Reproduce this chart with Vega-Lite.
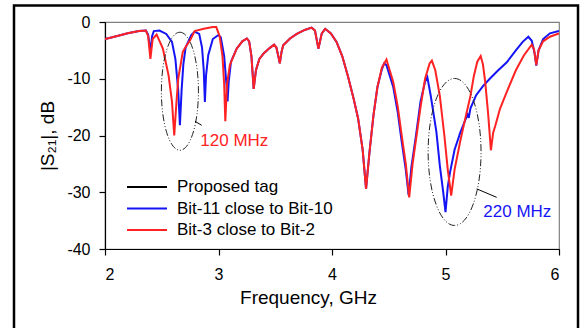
{
  "$schema": "https://vega.github.io/schema/vega-lite/v6.json",
  "width": 454,
  "height": 227,
  "autosize": "none",
  "padding": {"left": 105, "top": 22, "right": 23, "bottom": 79},
  "background": "white",
  "config": {
    "font": "Liberation Sans",
    "view": {"stroke": "#808080", "strokeWidth": 1.2},
    "axis": {
      "grid": false, "domainColor": "black", "domainWidth": 1.2, "tickColor": "black", "tickWidth": 1.2,
      "tickSize": 6, "labelFontSize": 16, "labelColor": "black", "titleFontSize": 19, "titleFontWeight": "normal", "titleColor": "black"
    },
    "legend": {
      "orient": "none", "legendX": 31, "legendY": 154, "labelFontSize": 17, "labelColor": "black",
      "symbolType": "M-2,0L2,0", "symbolSize": 400, "symbolStrokeWidth": 1.8, "labelOffset": 19, "rowPadding": 2.5, "padding": 0, "title": null
    }
  },
  "datasets": {
    "curves": [
      {"s": "Bit-11 close to Bit-10", "f": 2.00, "db": -3.0},
      {"s": "Bit-11 close to Bit-10", "f": 2.10, "db": -2.5},
      {"s": "Bit-11 close to Bit-10", "f": 2.20, "db": -2.0},
      {"s": "Bit-11 close to Bit-10", "f": 2.30, "db": -1.6},
      {"s": "Bit-11 close to Bit-10", "f": 2.36, "db": -1.5},
      {"s": "Bit-11 close to Bit-10", "f": 2.38, "db": -2.2},
      {"s": "Bit-11 close to Bit-10", "f": 2.40, "db": -5.3},
      {"s": "Bit-11 close to Bit-10", "f": 2.415, "db": -2.5},
      {"s": "Bit-11 close to Bit-10", "f": 2.43, "db": -1.6},
      {"s": "Bit-11 close to Bit-10", "f": 2.48, "db": -1.5},
      {"s": "Bit-11 close to Bit-10", "f": 2.54, "db": -2.1},
      {"s": "Bit-11 close to Bit-10", "f": 2.59, "db": -3.5},
      {"s": "Bit-11 close to Bit-10", "f": 2.62, "db": -6.5},
      {"s": "Bit-11 close to Bit-10", "f": 2.645, "db": -12.0},
      {"s": "Bit-11 close to Bit-10", "f": 2.66, "db": -18.2},
      {"s": "Bit-11 close to Bit-10", "f": 2.675, "db": -12.0},
      {"s": "Bit-11 close to Bit-10", "f": 2.69, "db": -7.5},
      {"s": "Bit-11 close to Bit-10", "f": 2.71, "db": -4.5},
      {"s": "Bit-11 close to Bit-10", "f": 2.76, "db": -2.3},
      {"s": "Bit-11 close to Bit-10", "f": 2.79, "db": -1.7},
      {"s": "Bit-11 close to Bit-10", "f": 2.83, "db": -2.1},
      {"s": "Bit-11 close to Bit-10", "f": 2.855, "db": -4.5},
      {"s": "Bit-11 close to Bit-10", "f": 2.87, "db": -8.5},
      {"s": "Bit-11 close to Bit-10", "f": 2.88, "db": -14.1},
      {"s": "Bit-11 close to Bit-10", "f": 2.89, "db": -9.5},
      {"s": "Bit-11 close to Bit-10", "f": 2.91, "db": -5.8},
      {"s": "Bit-11 close to Bit-10", "f": 2.95, "db": -3.0},
      {"s": "Bit-11 close to Bit-10", "f": 3.00, "db": -2.3},
      {"s": "Bit-11 close to Bit-10", "f": 3.02, "db": -2.7},
      {"s": "Bit-11 close to Bit-10", "f": 3.05, "db": -6.0},
      {"s": "Bit-11 close to Bit-10", "f": 3.07, "db": -11.0},
      {"s": "Bit-11 close to Bit-10", "f": 3.08, "db": -14.0},
      {"s": "Bit-11 close to Bit-10", "f": 3.09, "db": -10.5},
      {"s": "Bit-11 close to Bit-10", "f": 3.11, "db": -7.0},
      {"s": "Bit-11 close to Bit-10", "f": 3.16, "db": -4.7},
      {"s": "Bit-11 close to Bit-10", "f": 3.21, "db": -3.4},
      {"s": "Bit-11 close to Bit-10", "f": 3.25, "db": -2.9},
      {"s": "Bit-11 close to Bit-10", "f": 3.27, "db": -3.4},
      {"s": "Bit-11 close to Bit-10", "f": 3.29, "db": -6.0},
      {"s": "Bit-11 close to Bit-10", "f": 3.31, "db": -11.8},
      {"s": "Bit-11 close to Bit-10", "f": 3.33, "db": -8.5},
      {"s": "Bit-11 close to Bit-10", "f": 3.36, "db": -6.5},
      {"s": "Bit-11 close to Bit-10", "f": 3.40, "db": -5.5},
      {"s": "Bit-11 close to Bit-10", "f": 3.45, "db": -4.6},
      {"s": "Bit-11 close to Bit-10", "f": 3.49, "db": -4.0},
      {"s": "Bit-11 close to Bit-10", "f": 3.51, "db": -4.5},
      {"s": "Bit-11 close to Bit-10", "f": 3.53, "db": -6.3},
      {"s": "Bit-11 close to Bit-10", "f": 3.54, "db": -7.3},
      {"s": "Bit-11 close to Bit-10", "f": 3.555, "db": -5.3},
      {"s": "Bit-11 close to Bit-10", "f": 3.57, "db": -4.1},
      {"s": "Bit-11 close to Bit-10", "f": 3.63, "db": -2.9},
      {"s": "Bit-11 close to Bit-10", "f": 3.69, "db": -2.1},
      {"s": "Bit-11 close to Bit-10", "f": 3.76, "db": -1.4},
      {"s": "Bit-11 close to Bit-10", "f": 3.82, "db": -1.0},
      {"s": "Bit-11 close to Bit-10", "f": 3.85, "db": -1.5},
      {"s": "Bit-11 close to Bit-10", "f": 3.88, "db": -4.7},
      {"s": "Bit-11 close to Bit-10", "f": 3.91, "db": -2.0},
      {"s": "Bit-11 close to Bit-10", "f": 3.94, "db": -1.2},
      {"s": "Bit-11 close to Bit-10", "f": 3.99, "db": -2.0},
      {"s": "Bit-11 close to Bit-10", "f": 4.04, "db": -3.5},
      {"s": "Bit-11 close to Bit-10", "f": 4.09, "db": -6.0},
      {"s": "Bit-11 close to Bit-10", "f": 4.14, "db": -9.5},
      {"s": "Bit-11 close to Bit-10", "f": 4.19, "db": -13.5},
      {"s": "Bit-11 close to Bit-10", "f": 4.23, "db": -17.0},
      {"s": "Bit-11 close to Bit-10", "f": 4.27, "db": -22.5},
      {"s": "Bit-11 close to Bit-10", "f": 4.30, "db": -29.4},
      {"s": "Bit-11 close to Bit-10", "f": 4.33, "db": -23.0},
      {"s": "Bit-11 close to Bit-10", "f": 4.365, "db": -16.5},
      {"s": "Bit-11 close to Bit-10", "f": 4.40, "db": -11.5},
      {"s": "Bit-11 close to Bit-10", "f": 4.44, "db": -8.3},
      {"s": "Bit-11 close to Bit-10", "f": 4.46, "db": -7.3},
      {"s": "Bit-11 close to Bit-10", "f": 4.48, "db": -7.6},
      {"s": "Bit-11 close to Bit-10", "f": 4.54, "db": -11.5},
      {"s": "Bit-11 close to Bit-10", "f": 4.58, "db": -16.0},
      {"s": "Bit-11 close to Bit-10", "f": 4.61, "db": -20.5},
      {"s": "Bit-11 close to Bit-10", "f": 4.65, "db": -26.0},
      {"s": "Bit-11 close to Bit-10", "f": 4.675, "db": -30.5},
      {"s": "Bit-11 close to Bit-10", "f": 4.70, "db": -25.5},
      {"s": "Bit-11 close to Bit-10", "f": 4.74, "db": -20.0},
      {"s": "Bit-11 close to Bit-10", "f": 4.78, "db": -14.0},
      {"s": "Bit-11 close to Bit-10", "f": 4.82, "db": -10.5},
      {"s": "Bit-11 close to Bit-10", "f": 4.84, "db": -9.7},
      {"s": "Bit-11 close to Bit-10", "f": 4.87, "db": -13.0},
      {"s": "Bit-11 close to Bit-10", "f": 4.92, "db": -19.4},
      {"s": "Bit-11 close to Bit-10", "f": 4.95, "db": -25.3},
      {"s": "Bit-11 close to Bit-10", "f": 4.98, "db": -30.0},
      {"s": "Bit-11 close to Bit-10", "f": 5.00, "db": -33.5},
      {"s": "Bit-11 close to Bit-10", "f": 5.02, "db": -29.0},
      {"s": "Bit-11 close to Bit-10", "f": 5.04, "db": -26.5},
      {"s": "Bit-11 close to Bit-10", "f": 5.08, "db": -22.5},
      {"s": "Bit-11 close to Bit-10", "f": 5.13, "db": -19.5},
      {"s": "Bit-11 close to Bit-10", "f": 5.18, "db": -17.0},
      {"s": "Bit-11 close to Bit-10", "f": 5.195, "db": -16.3},
      {"s": "Bit-11 close to Bit-10", "f": 5.205, "db": -16.9},
      {"s": "Bit-11 close to Bit-10", "f": 5.22, "db": -15.2},
      {"s": "Bit-11 close to Bit-10", "f": 5.27, "db": -12.9},
      {"s": "Bit-11 close to Bit-10", "f": 5.33, "db": -11.3},
      {"s": "Bit-11 close to Bit-10", "f": 5.39, "db": -10.0},
      {"s": "Bit-11 close to Bit-10", "f": 5.46, "db": -8.6},
      {"s": "Bit-11 close to Bit-10", "f": 5.54, "db": -7.1},
      {"s": "Bit-11 close to Bit-10", "f": 5.62, "db": -5.0},
      {"s": "Bit-11 close to Bit-10", "f": 5.68, "db": -3.5},
      {"s": "Bit-11 close to Bit-10", "f": 5.73, "db": -2.6},
      {"s": "Bit-11 close to Bit-10", "f": 5.76, "db": -3.3},
      {"s": "Bit-11 close to Bit-10", "f": 5.785, "db": -5.5},
      {"s": "Bit-11 close to Bit-10", "f": 5.80, "db": -7.7},
      {"s": "Bit-11 close to Bit-10", "f": 5.82, "db": -5.0},
      {"s": "Bit-11 close to Bit-10", "f": 5.86, "db": -3.0},
      {"s": "Bit-11 close to Bit-10", "f": 5.92, "db": -2.0},
      {"s": "Bit-11 close to Bit-10", "f": 6.00, "db": -1.6},

      {"s": "Bit-3 close to Bit-2", "f": 2.00, "db": -3.0},
      {"s": "Bit-3 close to Bit-2", "f": 2.10, "db": -2.5},
      {"s": "Bit-3 close to Bit-2", "f": 2.20, "db": -2.0},
      {"s": "Bit-3 close to Bit-2", "f": 2.30, "db": -1.6},
      {"s": "Bit-3 close to Bit-2", "f": 2.36, "db": -1.5},
      {"s": "Bit-3 close to Bit-2", "f": 2.38, "db": -2.5},
      {"s": "Bit-3 close to Bit-2", "f": 2.40, "db": -6.5},
      {"s": "Bit-3 close to Bit-2", "f": 2.42, "db": -3.0},
      {"s": "Bit-3 close to Bit-2", "f": 2.455, "db": -2.2},
      {"s": "Bit-3 close to Bit-2", "f": 2.51, "db": -4.7},
      {"s": "Bit-3 close to Bit-2", "f": 2.56, "db": -9.4},
      {"s": "Bit-3 close to Bit-2", "f": 2.59, "db": -14.0},
      {"s": "Bit-3 close to Bit-2", "f": 2.61, "db": -20.0},
      {"s": "Bit-3 close to Bit-2", "f": 2.63, "db": -14.0},
      {"s": "Bit-3 close to Bit-2", "f": 2.645, "db": -10.0},
      {"s": "Bit-3 close to Bit-2", "f": 2.685, "db": -5.3},
      {"s": "Bit-3 close to Bit-2", "f": 2.71, "db": -4.4},
      {"s": "Bit-3 close to Bit-2", "f": 2.75, "db": -3.2},
      {"s": "Bit-3 close to Bit-2", "f": 2.79, "db": -1.6},
      {"s": "Bit-3 close to Bit-2", "f": 2.87, "db": -1.2},
      {"s": "Bit-3 close to Bit-2", "f": 2.95, "db": -0.9},
      {"s": "Bit-3 close to Bit-2", "f": 2.98, "db": -0.9},
      {"s": "Bit-3 close to Bit-2", "f": 3.01, "db": -2.5},
      {"s": "Bit-3 close to Bit-2", "f": 3.035, "db": -6.0},
      {"s": "Bit-3 close to Bit-2", "f": 3.05, "db": -11.0},
      {"s": "Bit-3 close to Bit-2", "f": 3.06, "db": -17.5},
      {"s": "Bit-3 close to Bit-2", "f": 3.075, "db": -11.0},
      {"s": "Bit-3 close to Bit-2", "f": 3.10, "db": -7.6},
      {"s": "Bit-3 close to Bit-2", "f": 3.16, "db": -4.7},
      {"s": "Bit-3 close to Bit-2", "f": 3.21, "db": -3.4},
      {"s": "Bit-3 close to Bit-2", "f": 3.25, "db": -2.9},
      {"s": "Bit-3 close to Bit-2", "f": 3.27, "db": -3.4},
      {"s": "Bit-3 close to Bit-2", "f": 3.29, "db": -6.0},
      {"s": "Bit-3 close to Bit-2", "f": 3.31, "db": -11.8},
      {"s": "Bit-3 close to Bit-2", "f": 3.33, "db": -8.5},
      {"s": "Bit-3 close to Bit-2", "f": 3.36, "db": -6.5},
      {"s": "Bit-3 close to Bit-2", "f": 3.40, "db": -5.5},
      {"s": "Bit-3 close to Bit-2", "f": 3.45, "db": -4.6},
      {"s": "Bit-3 close to Bit-2", "f": 3.49, "db": -4.0},
      {"s": "Bit-3 close to Bit-2", "f": 3.51, "db": -4.5},
      {"s": "Bit-3 close to Bit-2", "f": 3.53, "db": -6.3},
      {"s": "Bit-3 close to Bit-2", "f": 3.54, "db": -7.3},
      {"s": "Bit-3 close to Bit-2", "f": 3.555, "db": -5.3},
      {"s": "Bit-3 close to Bit-2", "f": 3.57, "db": -4.1},
      {"s": "Bit-3 close to Bit-2", "f": 3.63, "db": -2.9},
      {"s": "Bit-3 close to Bit-2", "f": 3.69, "db": -2.1},
      {"s": "Bit-3 close to Bit-2", "f": 3.76, "db": -1.4},
      {"s": "Bit-3 close to Bit-2", "f": 3.82, "db": -1.0},
      {"s": "Bit-3 close to Bit-2", "f": 3.85, "db": -1.5},
      {"s": "Bit-3 close to Bit-2", "f": 3.88, "db": -4.7},
      {"s": "Bit-3 close to Bit-2", "f": 3.91, "db": -2.0},
      {"s": "Bit-3 close to Bit-2", "f": 3.94, "db": -1.2},
      {"s": "Bit-3 close to Bit-2", "f": 3.99, "db": -2.0},
      {"s": "Bit-3 close to Bit-2", "f": 4.04, "db": -3.5},
      {"s": "Bit-3 close to Bit-2", "f": 4.09, "db": -6.0},
      {"s": "Bit-3 close to Bit-2", "f": 4.14, "db": -9.5},
      {"s": "Bit-3 close to Bit-2", "f": 4.19, "db": -13.5},
      {"s": "Bit-3 close to Bit-2", "f": 4.23, "db": -17.0},
      {"s": "Bit-3 close to Bit-2", "f": 4.27, "db": -22.5},
      {"s": "Bit-3 close to Bit-2", "f": 4.30, "db": -29.4},
      {"s": "Bit-3 close to Bit-2", "f": 4.33, "db": -23.0},
      {"s": "Bit-3 close to Bit-2", "f": 4.365, "db": -16.5},
      {"s": "Bit-3 close to Bit-2", "f": 4.40, "db": -11.5},
      {"s": "Bit-3 close to Bit-2", "f": 4.44, "db": -8.0},
      {"s": "Bit-3 close to Bit-2", "f": 4.48, "db": -6.6},
      {"s": "Bit-3 close to Bit-2", "f": 4.54, "db": -10.6},
      {"s": "Bit-3 close to Bit-2", "f": 4.58, "db": -15.0},
      {"s": "Bit-3 close to Bit-2", "f": 4.61, "db": -19.4},
      {"s": "Bit-3 close to Bit-2", "f": 4.65, "db": -25.0},
      {"s": "Bit-3 close to Bit-2", "f": 4.68, "db": -30.9},
      {"s": "Bit-3 close to Bit-2", "f": 4.71, "db": -25.0},
      {"s": "Bit-3 close to Bit-2", "f": 4.745, "db": -20.0},
      {"s": "Bit-3 close to Bit-2", "f": 4.78, "db": -15.0},
      {"s": "Bit-3 close to Bit-2", "f": 4.82, "db": -10.0},
      {"s": "Bit-3 close to Bit-2", "f": 4.86, "db": -7.3},
      {"s": "Bit-3 close to Bit-2", "f": 4.88, "db": -6.8},
      {"s": "Bit-3 close to Bit-2", "f": 4.91, "db": -8.5},
      {"s": "Bit-3 close to Bit-2", "f": 4.95, "db": -13.0},
      {"s": "Bit-3 close to Bit-2", "f": 4.99, "db": -20.0},
      {"s": "Bit-3 close to Bit-2", "f": 5.02, "db": -26.0},
      {"s": "Bit-3 close to Bit-2", "f": 5.05, "db": -30.6},
      {"s": "Bit-3 close to Bit-2", "f": 5.08, "db": -26.0},
      {"s": "Bit-3 close to Bit-2", "f": 5.13, "db": -21.0},
      {"s": "Bit-3 close to Bit-2", "f": 5.18, "db": -16.5},
      {"s": "Bit-3 close to Bit-2", "f": 5.22, "db": -13.0},
      {"s": "Bit-3 close to Bit-2", "f": 5.25, "db": -9.5},
      {"s": "Bit-3 close to Bit-2", "f": 5.28, "db": -7.0},
      {"s": "Bit-3 close to Bit-2", "f": 5.31, "db": -6.0},
      {"s": "Bit-3 close to Bit-2", "f": 5.33, "db": -7.5},
      {"s": "Bit-3 close to Bit-2", "f": 5.35, "db": -10.6},
      {"s": "Bit-3 close to Bit-2", "f": 5.375, "db": -16.0},
      {"s": "Bit-3 close to Bit-2", "f": 5.40, "db": -22.6},
      {"s": "Bit-3 close to Bit-2", "f": 5.42, "db": -19.5},
      {"s": "Bit-3 close to Bit-2", "f": 5.44, "db": -18.2},
      {"s": "Bit-3 close to Bit-2", "f": 5.48, "db": -15.3},
      {"s": "Bit-3 close to Bit-2", "f": 5.54, "db": -12.3},
      {"s": "Bit-3 close to Bit-2", "f": 5.62, "db": -8.5},
      {"s": "Bit-3 close to Bit-2", "f": 5.69, "db": -5.9},
      {"s": "Bit-3 close to Bit-2", "f": 5.76, "db": -4.0},
      {"s": "Bit-3 close to Bit-2", "f": 5.78, "db": -4.8},
      {"s": "Bit-3 close to Bit-2", "f": 5.80, "db": -7.6},
      {"s": "Bit-3 close to Bit-2", "f": 5.82, "db": -5.0},
      {"s": "Bit-3 close to Bit-2", "f": 5.86, "db": -3.4},
      {"s": "Bit-3 close to Bit-2", "f": 5.92, "db": -2.6},
      {"s": "Bit-3 close to Bit-2", "f": 6.00, "db": -2.0}
    ]
  },
  "layer": [
    {
      "data": {"values": [{}]},
      "mark": {"type": "rect", "fillOpacity": 0, "stroke": "black", "strokeWidth": 2.5, "clip": false},
      "encoding": {"x": {"value": -91}, "x2": {"value": 473}, "y": {"value": -16.5}, "y2": {"value": 330}}
    },
    {
      "data": {"name": "curves"},
      "transform": [{"filter": "datum.s == 'Bit-11 close to Bit-10'"}],
      "mark": {"type": "line", "strokeWidth": 2, "clip": true},
      "encoding": {
        "x": {"field": "f", "type": "quantitative", "scale": {"domain": [2, 6], "nice": false},
          "axis": {"values": [2, 3, 4, 5, 6], "labelExpr": "datum.value", "title": "Frequency, GHz", "labelPadding": 11, "titlePadding": 6, "titleX": 203, "titleAnchor": "start", "titleAlign": "center"}},
        "y": {"field": "db", "type": "quantitative", "scale": {"domain": [-40, 0], "nice": false},
          "axis": {"values": [-40, -30, -20, -10, 0], "labelExpr": "datum.value", "title": "|S₂₁|, dB", "labelPadding": 9, "titlePadding": 9}},
        "color": {"field": "s", "type": "nominal", "scale": {"domain": ["Proposed tag", "Bit-11 close to Bit-10", "Bit-3 close to Bit-2"], "range": ["black", "#1414f5", "#ff2222"]}},
        "order": {"field": "f", "type": "quantitative"}
      }
    },
    {
      "data": {"name": "curves"},
      "transform": [{"filter": "datum.s == 'Bit-3 close to Bit-2'"}],
      "mark": {"type": "line", "strokeWidth": 2, "clip": true},
      "encoding": {
        "x": {"field": "f", "type": "quantitative"},
        "y": {"field": "db", "type": "quantitative"},
        "color": {"field": "s", "type": "nominal"},
        "order": {"field": "f", "type": "quantitative"}
      }
    },
    {
      "data": {"values": [{"f": 2.66, "db": -12.2}]},
      "mark": {"type": "point", "filled": false, "stroke": "#222", "strokeWidth": 1, "strokeDash": [7, 2, 1, 2, 1, 2], "opacity": 1, "size": 13924,
        "shape": "M0,-1C0.1734,-1 0.314,-0.5523 0.314,0C0.314,0.5523 0.1734,1 0,1C-0.1734,1 -0.314,0.5523 -0.314,0C-0.314,-0.5523 -0.1734,-1 0,-1Z"},
      "encoding": {"x": {"field": "f", "type": "quantitative"}, "y": {"field": "db", "type": "quantitative"}}
    },
    {
      "data": {"values": [{"f": 5.08, "db": -22.9}]},
      "mark": {"type": "point", "filled": false, "stroke": "#222", "strokeWidth": 1, "strokeDash": [7, 2, 1, 2, 1, 2], "opacity": 1, "size": 21609,
        "shape": "M0,-1C0.1988,-1 0.36,-0.5523 0.36,0C0.36,0.5523 0.1988,1 0,1C-0.1988,1 -0.36,0.5523 -0.36,0C-0.36,-0.5523 -0.1988,-1 0,-1Z"},
      "encoding": {"x": {"field": "f", "type": "quantitative"}, "y": {"field": "db", "type": "quantitative"}}
    },
    {
      "data": {"values": [{"f": 2.793, "db": -17.5, "f2": 2.852, "db2": -18.2}, {"f": 5.275, "db": -29.4, "f2": 5.451, "db2": -30.9}]},
      "mark": {"type": "rule", "color": "black", "strokeWidth": 1},
      "encoding": {"x": {"field": "f", "type": "quantitative"}, "y": {"field": "db", "type": "quantitative"}, "x2": {"field": "f2"}, "y2": {"field": "db2"}}
    },
    {
      "data": {"values": [{"f": 2.84, "db": -20.9, "t": "120 MHz", "c": "r"}, {"f": 5.333, "db": -33.5, "t": "220 MHz", "c": "b"}]},
      "mark": {"type": "text", "align": "left", "baseline": "middle", "fontSize": 17},
      "encoding": {
        "x": {"field": "f", "type": "quantitative"},
        "y": {"field": "db", "type": "quantitative"},
        "text": {"field": "t"},
        "color": {"condition": {"test": "datum.c == 'r'", "value": "#ff2222"}, "value": "#1414f5"}
      }
    }
  ]
}
